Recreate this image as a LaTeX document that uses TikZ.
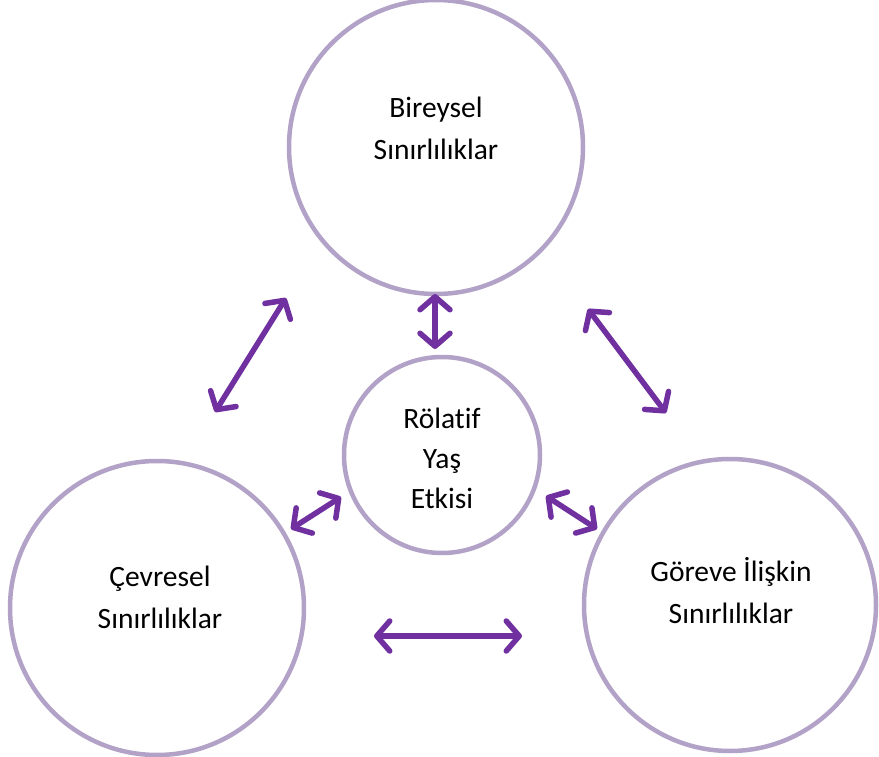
\documentclass[tikz,border=0pt]{standalone}
\usepackage{fontspec}
\setmainfont[Ligatures=NoCommon]{Carlito}
\usetikzlibrary{arrows.meta}
\definecolor{ring}{HTML}{B3A2C7}
\definecolor{arr}{HTML}{7030A0}
\tikzset{
  ringnode/.style={circle, draw=ring, line width=4.5pt, inner sep=0pt},
  lbl/.style={align=center, font=\fontsize{29.5}{42}\selectfont, text=black},
  dbl/.style={draw=arr, line width=5.5pt, line cap=round,
    {Straight Barb[length=13pt,width=30pt,line width=5.5pt,round]}-{Straight Barb[length=13pt,width=30pt,line width=5.5pt,round]}}
}
\begin{document}
\begin{tikzpicture}[x=1pt,y=-1pt]
\useasboundingbox (0,0) rectangle (879,757);
\node[ringnode, minimum size=294pt] (top) at (436,147) {};
\node[ringnode, minimum size=196pt] (mid) at (442,455) {};
\node[ringnode, minimum size=294pt] (left) at (157,608) {};
\node[ringnode, minimum size=292pt] (right) at (730,605) {};
\node[lbl] (ttop) at (436,128) {Bireysel\\Sınırlılıklar};
\node[lbl, font=\fontsize{29.5}{40}\selectfont] (tmid) at (442,458) {Rölatif\\Yaş\\Etkisi};
\node[lbl] (tleft) at (160,597) {Çevresel\\Sınırlılıklar};
\node[lbl] (tright) at (731,591) {Göreve İlişkin\\Sınırlılıklar};
\coordinate (a1) at (286,298); \coordinate (a2) at (215,412);
\coordinate (b1) at (435,294); \coordinate (b2) at (435,349);
\coordinate (c1) at (588,309); \coordinate (c2) at (666,413);
\coordinate (d1) at (341,497); \coordinate (d2) at (291,529);
\coordinate (e1) at (546,496); \coordinate (e2) at (597,529);
\coordinate (f1) at (374,636); \coordinate (f2) at (522,636);
\draw[dbl] (a1) -- (a2);
\draw[dbl] (b1) -- (b2);
\draw[dbl] (c1) -- (c2);
\draw[dbl] (d1) -- (d2);
\draw[dbl] (e1) -- (e2);
\draw[dbl] (f1) -- (f2);
\end{tikzpicture}
\end{document}
